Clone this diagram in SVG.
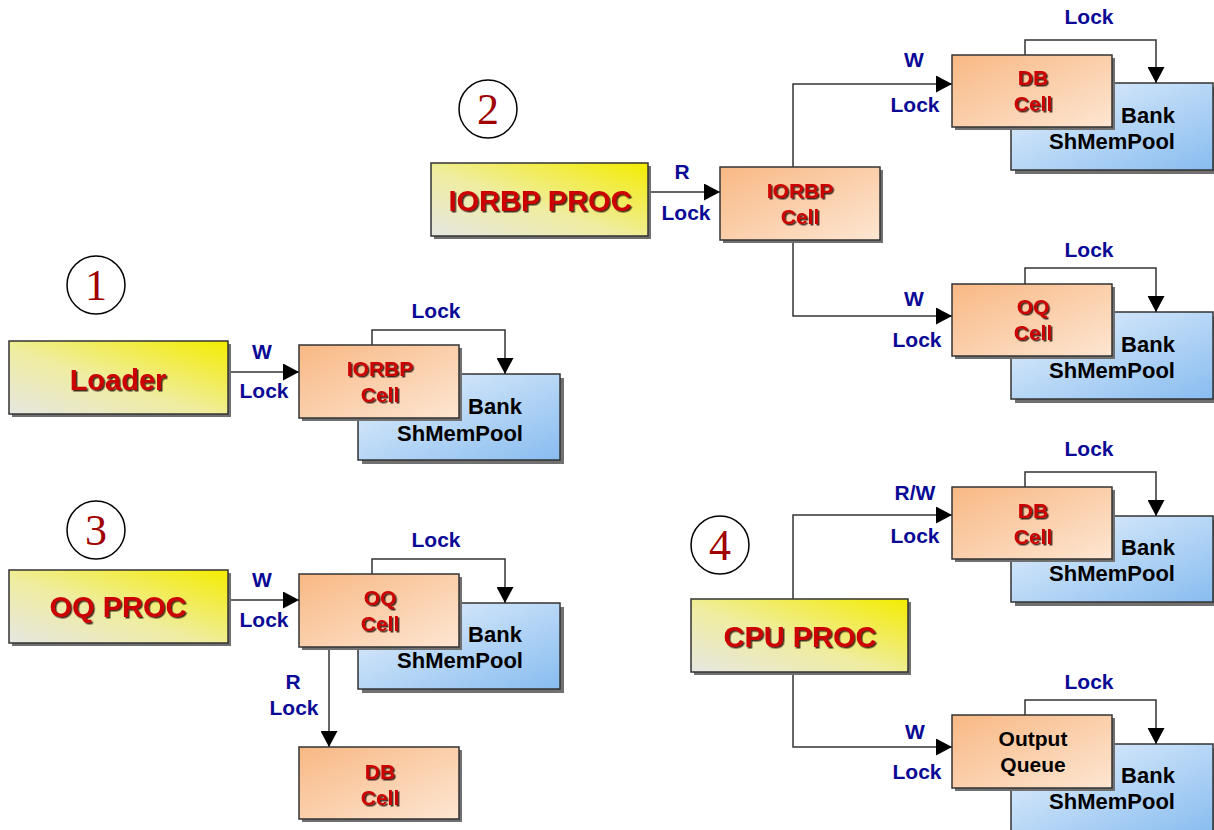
<svg xmlns="http://www.w3.org/2000/svg" width="1214" height="830" viewBox="0 0 1214 830">
<defs>
<linearGradient id="gProc" x1="0" y1="1" x2="1" y2="0">
<stop offset="0" stop-color="#e6e6e2"/>
<stop offset="0.45" stop-color="#efeda0"/>
<stop offset="1" stop-color="#f4ec00"/>
</linearGradient>
<linearGradient id="gCell" x1="0" y1="0" x2="1" y2="1">
<stop offset="0" stop-color="#f8b884"/>
<stop offset="1" stop-color="#fde6d2"/>
</linearGradient>
<linearGradient id="gBank" x1="0" y1="0" x2="1" y2="1">
<stop offset="0" stop-color="#e8f2fc"/>
<stop offset="1" stop-color="#88bcf0"/>
</linearGradient>
<filter id="ts" x="-10%" y="-20%" width="130%" height="150%">
<feDropShadow dx="1.5" dy="1.5" stdDeviation="0.2" flood-color="#1a0000" flood-opacity="0.8"/>
</filter>
<marker id="arr" markerUnits="userSpaceOnUse" markerWidth="16" markerHeight="17" viewBox="0 0 16 17" refX="16" refY="8.5" orient="auto">
<path d="M0,0 L16,8.5 L0,17 z" fill="#000"/>
</marker>
<style>
.sh{fill:#707070}
.proc{fill:url(#gProc);stroke:#333;stroke-width:1.5}
.cell{fill:url(#gCell);stroke:#333;stroke-width:1.5}
.bank{fill:url(#gBank);stroke:#333;stroke-width:1.5}
.ptxt{font-family:"Liberation Sans",Arial,sans-serif;font-weight:bold;font-size:29px;fill:#cc0000;text-anchor:middle;filter:url(#ts)}
.ctxt{font-family:"Liberation Sans",Arial,sans-serif;font-weight:bold;font-size:21px;fill:#cc0000;text-anchor:middle;filter:url(#ts)}
.otxt{font-family:"Liberation Sans",Arial,sans-serif;font-weight:bold;font-size:21px;fill:#000;text-anchor:middle}
.btxt{font-family:"Liberation Sans",Arial,sans-serif;font-weight:bold;font-size:22px;fill:#000;text-anchor:middle}
.lbl{font-family:"Liberation Sans",Arial,sans-serif;font-weight:bold;font-size:21px;fill:#0a0a96;text-anchor:middle}
.num{font-family:"Liberation Serif","Times New Roman",serif;font-size:44px;fill:#a00000;text-anchor:middle}
.circ{fill:#fff;stroke:#000;stroke-width:1.5}
.con{fill:none;stroke:#333;stroke-width:1.5;marker-end:url(#arr)}
</style>
</defs>
<rect width="1214" height="830" fill="#fff"/>

<!-- Banks first (underneath) -->
<g id="bank1"><rect class="sh" x="362" y="378" width="202" height="86"/><rect class="bank" x="358" y="374" width="202" height="86"/><text class="btxt" x="495" y="414">Bank</text><text class="btxt" x="460" y="441">ShMemPool</text></g>
<g id="bank2a"><rect class="sh" x="1015" y="87" width="202" height="87"/><rect class="bank" x="1011" y="83" width="202" height="87"/><text class="btxt" x="1148" y="123">Bank</text><text class="btxt" x="1112" y="149">ShMemPool</text></g>
<g id="bank2b"><rect class="sh" x="1015" y="316" width="202" height="87"/><rect class="bank" x="1011" y="312" width="202" height="87"/><text class="btxt" x="1148" y="352">Bank</text><text class="btxt" x="1112" y="378">ShMemPool</text></g>
<g id="bank3"><rect class="sh" x="362" y="607" width="202" height="86"/><rect class="bank" x="358" y="603" width="202" height="86"/><text class="btxt" x="495" y="642">Bank</text><text class="btxt" x="460" y="668">ShMemPool</text></g>
<g id="bank4a"><rect class="sh" x="1015" y="520" width="202" height="86"/><rect class="bank" x="1011" y="516" width="202" height="86"/><text class="btxt" x="1148" y="555">Bank</text><text class="btxt" x="1112" y="581">ShMemPool</text></g>
<g id="bank4b"><rect class="sh" x="1015" y="748" width="202" height="90"/><rect class="bank" x="1011" y="744" width="202" height="90"/><text class="btxt" x="1148" y="783">Bank</text><text class="btxt" x="1112" y="809">ShMemPool</text></g>

<!-- Connectors -->
<g id="connectors">
<path class="con" d="M228 372 H299"/>
<path class="con" d="M372 345 V330 H505 V374"/>
<path class="con" d="M648 192 H720"/>
<path class="con" d="M793 167 V84 H952"/>
<path class="con" d="M793 240 V316 H952"/>
<path class="con" d="M1025 55 V40 H1156 V83"/>
<path class="con" d="M1025 284 V268 H1156 V312"/>
<path class="con" d="M228 600 H299"/>
<path class="con" d="M372 574 V559 H505 V603"/>
<path class="con" d="M329 647 V747"/>
<path class="con" d="M793 599 V515 H952"/>
<path class="con" d="M793 672 V747 H952"/>
<path class="con" d="M1025 487 V472 H1156 V516"/>
<path class="con" d="M1025 715 V700 H1156 V744"/>
<text class="lbl" x="262" y="359">W</text><text class="lbl" x="264" y="398">Lock</text>
<text class="lbl" x="436" y="318">Lock</text>
<text class="lbl" x="682" y="179">R</text><text class="lbl" x="686" y="220">Lock</text>
<text class="lbl" x="914" y="67">W</text><text class="lbl" x="915" y="112">Lock</text>
<text class="lbl" x="1089" y="24">Lock</text>
<text class="lbl" x="914" y="306">W</text><text class="lbl" x="917" y="347">Lock</text>
<text class="lbl" x="1089" y="257">Lock</text>
<text class="lbl" x="262" y="587">W</text><text class="lbl" x="264" y="627">Lock</text>
<text class="lbl" x="436" y="547">Lock</text>
<text class="lbl" x="293" y="689">R</text><text class="lbl" x="294" y="715">Lock</text>
<text class="lbl" x="915" y="500">R/W</text><text class="lbl" x="915" y="543">Lock</text>
<text class="lbl" x="1089" y="456">Lock</text>
<text class="lbl" x="915" y="739">W</text><text class="lbl" x="917" y="779">Lock</text>
<text class="lbl" x="1089" y="689">Lock</text>
</g>

<!-- Numbered circles -->
<g id="n1"><circle class="circ" cx="96" cy="285" r="29"/><text class="num" x="96" y="300">1</text></g>
<g id="n2"><circle class="circ" cx="488" cy="109" r="29"/><text class="num" x="488" y="124">2</text></g>
<g id="n3"><circle class="circ" cx="96" cy="530" r="29"/><text class="num" x="96" y="545">3</text></g>
<g id="n4"><circle class="circ" cx="720" cy="545" r="29"/><text class="num" x="720" y="560">4</text></g>

<!-- Procs -->
<g id="loader"><rect class="sh" x="12" y="344" width="219" height="73"/><rect class="proc" x="9" y="341" width="219" height="73"/><text class="ptxt" x="118" y="390">Loader</text></g>
<g id="iorbpproc"><rect class="sh" x="434" y="166" width="217" height="73"/><rect class="proc" x="431" y="163" width="217" height="73"/><text class="ptxt" x="540" y="211">IORBP PROC</text></g>
<g id="oqproc"><rect class="sh" x="12" y="573" width="219" height="73"/><rect class="proc" x="9" y="570" width="219" height="73"/><text class="ptxt" x="118" y="617">OQ PROC</text></g>
<g id="cpuproc"><rect class="sh" x="694" y="602" width="217" height="73"/><rect class="proc" x="691" y="599" width="217" height="73"/><text class="ptxt" x="800" y="647">CPU PROC</text></g>

<!-- Cells -->
<g id="iorbpcell1"><rect class="sh" x="302" y="348" width="160" height="73"/><rect class="cell" x="299" y="345" width="160" height="73"/><text class="ctxt" x="380" y="376">IORBP</text><text class="ctxt" x="380" y="402">Cell</text></g>
<g id="iorbpcell2"><rect class="sh" x="723" y="170" width="160" height="73"/><rect class="cell" x="720" y="167" width="160" height="73"/><text class="ctxt" x="800" y="198">IORBP</text><text class="ctxt" x="800" y="224">Cell</text></g>
<g id="dbcell2"><rect class="sh" x="955" y="58" width="160" height="72"/><rect class="cell" x="952" y="55" width="160" height="72"/><text class="ctxt" x="1033" y="85">DB</text><text class="ctxt" x="1033" y="111">Cell</text></g>
<g id="oqcell2"><rect class="sh" x="955" y="287" width="160" height="72"/><rect class="cell" x="952" y="284" width="160" height="72"/><text class="ctxt" x="1033" y="314">OQ</text><text class="ctxt" x="1033" y="340">Cell</text></g>
<g id="oqcell3"><rect class="sh" x="302" y="577" width="160" height="73"/><rect class="cell" x="299" y="574" width="160" height="73"/><text class="ctxt" x="380" y="605">OQ</text><text class="ctxt" x="380" y="631">Cell</text></g>
<g id="dbcell3"><rect class="sh" x="302" y="750" width="160" height="72"/><rect class="cell" x="299" y="747" width="160" height="72"/><text class="ctxt" x="380" y="779">DB</text><text class="ctxt" x="380" y="805">Cell</text></g>
<g id="dbcell4"><rect class="sh" x="955" y="490" width="160" height="72"/><rect class="cell" x="952" y="487" width="160" height="72"/><text class="ctxt" x="1033" y="518">DB</text><text class="ctxt" x="1033" y="544">Cell</text></g>
<g id="outq4"><rect class="sh" x="955" y="718" width="160" height="73"/><rect class="cell" x="952" y="715" width="160" height="73"/><text class="otxt" x="1033" y="746">Output</text><text class="otxt" x="1033" y="772">Queue</text></g>
</svg>
